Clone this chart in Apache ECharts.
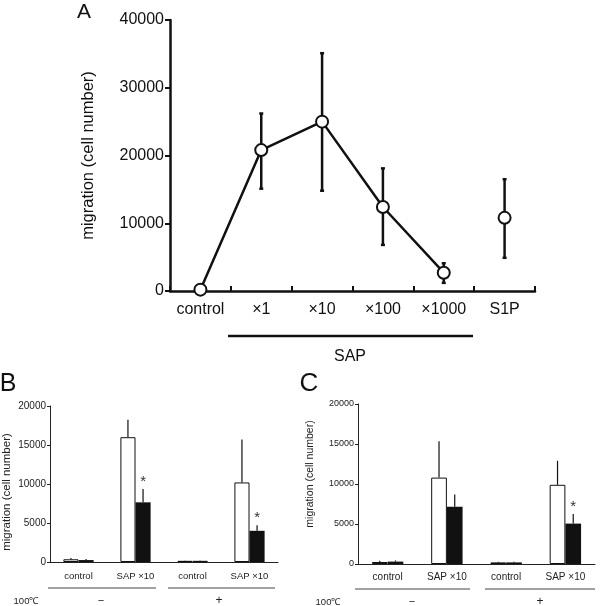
<!DOCTYPE html>
<html>
<head>
<meta charset="utf-8">
<script src="https://cdn.jsdelivr.net/npm/echarts@6/dist/echarts.min.js"></script>
<style>
  html, body { margin: 0; background: #fff; }
  #chart { width: 600px; height: 606px; }
</style>
</head>
<body>
<div id="chart"></div>
<script>
// 세 패널(A: 용량 반응, B/C: 가열 처리 비교)을 하나의 인스턴스에 그린다

const FONT = '"Liberation Sans", Arial, sans-serif';
const INK = "#111";

// ─── 패널 A 데이터 ─────────────────────────────
const doseCats   = ["control", "×1", "×10", "×100", "×1000", "S1P"];
const doseMean   = [200, 20800, 25000, 12400, 2700, 10800];
const doseHigh   = [200, 26200, 35100, 18100, 4100, 16500];
const doseLow    = [200, 15100, 14800, 6800, 1200, 4900];
const doseLinked = [true, true, true, true, true, false]; // S1P 는 선으로 잇지 않음
const yMaxA = 40000, yStepA = 10000;

// ─── 패널 B / C 데이터 ─────────────────────────
const groupCats = ["control", "SAP ×10", "control", "SAP ×10"];

const bOpen    = [350, 16000, 150, 10200];
const bOpenSd  = [150, 2250, 50, 5500];
const bSolid   = [250, 7650, 150, 4000];
const bSolidSd = [120, 1700, 50, 720];
const bStar    = [false, true, false, true];

const cOpen    = [250, 10800, 200, 9900];
const cOpenSd  = [150, 4550, 80, 3000];
const cSolid   = [300, 7150, 200, 5050];
const cSolidSd = [150, 1550, 80, 1200];
const cStar    = [false, false, false, true];

const yMaxBC = 20000, yStepBC = 5000;
const BAR_GAP = 0.47; // barCategoryGap 비율

const plain = (v) => String(v); // 천 단위 구분기호 없이

// ─── 렌더 함수 ─────────────────────────────────

// 패널 A 에러바 (위아래, 굵은 선)
function whiskerA(params, api) {
  const i = api.value(0);
  const top = api.coord([i, api.value(2)]);
  const bot = api.coord([i, api.value(1)]);
  const st = { stroke: INK, lineWidth: 2.5 };
  return {
    type: "group",
    children: [
      { type: "line", shape: { x1: top[0], y1: top[1], x2: bot[0], y2: bot[1] }, style: st },
      { type: "line", shape: { x1: top[0] - 2, y1: top[1], x2: top[0] + 2, y2: top[1] }, style: st },
      { type: "line", shape: { x1: bot[0] - 2, y1: bot[1], x2: bot[0] + 2, y2: bot[1] }, style: st },
    ],
  };
}

// 막대 위쪽 에러바 + 유의 표시(*)
function barWhisker(slot) {
  return function (params, api) {
    const i = api.value(0);
    const mean = api.value(1);
    const band = api.size([1, 0])[0];
    const w = band * (1 - BAR_GAP) / 2;
    const x = api.coord([i, 0])[0] + (slot - 0.5) * w;
    const yMean = api.coord([i, mean])[1];
    const yTop = api.coord([i, mean + api.value(2)])[1];
    const children = [
      { type: "line", shape: { x1: x, y1: yMean, x2: x, y2: yTop }, style: { stroke: INK, lineWidth: 1.2 } },
    ];
    if (api.value(3)) {
      children.push({
        type: "text",
        style: { text: "*", x: x, y: yTop - 7, align: "center", verticalAlign: "middle", font: "15px " + FONT, fill: "#333" },
      });
    }
    return { type: "group", children };
  };
}

function whiskerData(mean, sd, star) {
  return mean.map((v, i) => [i, v, sd[i], star ? (star[i] ? 1 : 0) : 0]);
}

// ─── 공통 축 스타일 ────────────────────────────
function valueAxisBC(grid, max, fs, gap, pad) {
  return {
    type: "value", gridIndex: grid, min: 0, max: max, interval: yStepBC,
    splitLine: { show: false },
    axisLine: { show: true, lineStyle: { color: "#222", width: 1 } },
    axisTick: { show: true, length: 3, lineStyle: { color: "#222" } },
    axisLabel: { color: "#222", fontSize: fs, fontFamily: FONT, margin: 4, formatter: plain },
    name: "migration (cell number)", nameLocation: "middle", nameGap: gap,
    nameTextStyle: { color: "#222", fontSize: fs + 1.5, fontFamily: FONT, padding: pad },
  };
}

function catAxisBC(grid, fs, margin) {
  return {
    type: "category", gridIndex: grid, data: groupCats,
    axisLine: { lineStyle: { color: "#222", width: 1 } },
    axisTick: { show: false },
    axisLabel: { color: "#222", fontSize: fs, fontFamily: FONT, margin: margin, interval: 0 },
  };
}

function barPair(axis, open, solid) {
  return [
    {
      type: "bar", xAxisIndex: axis, yAxisIndex: axis, data: open,
      barGap: "0%", barCategoryGap: BAR_GAP * 100 + "%",
      itemStyle: { color: "#fff", borderColor: INK, borderWidth: 1 },
    },
    {
      type: "bar", xAxisIndex: axis, yAxisIndex: axis, data: solid,
      barGap: "0%", barCategoryGap: BAR_GAP * 100 + "%",
      itemStyle: { color: INK },
    },
  ];
}

function whiskerSeries(axis, slot, mean, sd, star) {
  return {
    type: "custom", xAxisIndex: axis, yAxisIndex: axis, z: 3,
    renderItem: barWhisker(slot), data: whiskerData(mean, sd, star),
    encode: { x: 0, y: 1 },
  };
}

function txt(text, x, y, size, align, color) {
  return {
    type: "text", x: x, y: y, silent: true,
    style: { text, font: size + "px " + FONT, fill: color || INK, align: align || "center", verticalAlign: "middle" },
  };
}

function hline(x1, x2, y, w, color) {
  return { type: "line", silent: true, shape: { x1, y1: y, x2, y2: y }, style: { stroke: color || INK, lineWidth: w } };
}

const chart = echarts.init(document.getElementById("chart"), null, { renderer: "canvas" });

chart.setOption({
  backgroundColor: "#fff",
  animation: false,
  textStyle: { fontFamily: FONT, color: INK },
  grid: [
    { left: 170, top: 20, width: 365, height: 271 },
    { left: 49, top: 406, width: 229, height: 156 },
    { left: 358, top: 404, width: 237, height: 160 },
  ],
  xAxis: [
    {
      type: "category", gridIndex: 0, data: doseCats, boundaryGap: true,
      axisLine: { lineStyle: { color: INK, width: 2.5 } },
      axisTick: { show: true, inside: true, length: 5, interval: 0, lineStyle: { color: INK, width: 2 } },
      axisLabel: { color: INK, fontSize: 16, fontFamily: FONT, margin: 11, interval: 0 },
    },
    catAxisBC(1, 9.5, 9),
    catAxisBC(2, 10, 8),
  ],
  yAxis: [
    {
      type: "value", gridIndex: 0, min: 0, max: yMaxA, interval: yStepA,
      splitLine: { show: false },
      axisLine: { show: true, lineStyle: { color: INK, width: 2.5 } },
      axisTick: { show: true, length: 5, lineStyle: { color: INK, width: 2 } },
      axisLabel: { color: INK, fontSize: 16, fontFamily: FONT, margin: 6, formatter: plain },
      name: "migration (cell number)", nameLocation: "middle", nameGap: 73,
      nameTextStyle: { color: INK, fontSize: 16.5, fontFamily: FONT },
    },
    valueAxisBC(1, yMaxBC, 10, 37, [0, 16, 0, 0]),
    valueAxisBC(2, yMaxBC, 9, 42, [0, 0, 0, 20]),
  ],
  series: [
    {
      type: "custom", xAxisIndex: 0, yAxisIndex: 0, z: 1,
      renderItem: whiskerA,
      data: doseCats.map((c, i) => [i, doseLow[i], doseHigh[i]]),
      encode: { x: 0, y: [1, 2] },
    },
    {
      type: "line", xAxisIndex: 0, yAxisIndex: 0, z: 2,
      data: doseMean.map((v, i) => (doseLinked[i] ? v : "-")),
      symbol: "circle", symbolSize: 12,
      lineStyle: { color: INK, width: 2.5 },
      itemStyle: { color: "#fff", borderColor: INK, borderWidth: 2 },
    },
    {
      type: "scatter", xAxisIndex: 0, yAxisIndex: 0, z: 2,
      data: doseMean.map((v, i) => (doseLinked[i] ? "-" : v)),
      symbol: "circle", symbolSize: 12,
      itemStyle: { color: "#fff", borderColor: INK, borderWidth: 2, opacity: 1 },
    },
    ...barPair(1, bOpen, bSolid),
    whiskerSeries(1, 0, bOpen, bOpenSd, null),
    whiskerSeries(1, 1, bSolid, bSolidSd, bStar),
    ...barPair(2, cOpen, cSolid),
    whiskerSeries(2, 0, cOpen, cOpenSd, null),
    whiskerSeries(2, 1, cSolid, cSolidSd, cStar),
  ],
  graphic: [
    txt("A", 84, 12, 21),
    txt("B", 8, 384, 25),
    txt("C", 309, 384, 26),
    // 패널 A: SAP 묶음선
    hline(228, 473, 336, 2.5),
    txt("SAP", 350, 357, 16),
    // 패널 B: 100℃ 구분
    hline(48, 156, 588, 1, "#444"),
    hline(168, 275, 588, 1, "#444"),
    txt("100℃", 26, 601, 9.5, "center", "#222"),
    txt("−", 101, 601, 11, "center", "#222"),
    txt("+", 219, 601, 12, "center", "#222"),
    // 패널 C
    hline(355, 470, 589, 1, "#444"),
    hline(485, 595, 589, 1, "#444"),
    txt("100℃", 328, 602, 9.5, "center", "#222"),
    txt("−", 412, 602, 11, "center", "#222"),
    txt("+", 540, 602, 12, "center", "#222"),
  ],
});
</script>
</body>
</html>
